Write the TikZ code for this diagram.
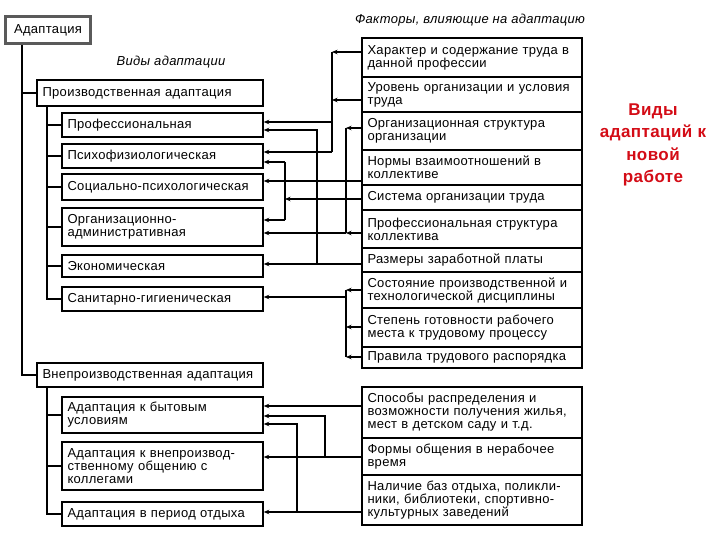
\documentclass[tikz,border=0pt]{standalone}
\usepackage{fontspec}
\setmainfont{Liberation Sans}[LetterSpace=2.5]
\usetikzlibrary{arrows.meta}
\definecolor{redtxt}{RGB}{212,12,22}
\definecolor{frame}{RGB}{90,90,90}
\tikzset{
  box/.style={draw, line width=1.5pt, align=left, inner xsep=5pt, inner ysep=0pt,
    font=\fontsize{13}{13}\selectfont, anchor=center},
  lbox/.style={box, text width=190pt, minimum width=201pt},
  pbox/.style={box, text width=215pt, minimum width=226pt},
  rbox/.style={box, inner xsep=5pt, text width=209pt, minimum width=220pt},
  con/.style={line width=1.2pt},
  arr/.style={con, -{Stealth[length=5.5pt,width=4.5pt]}},
  tree/.style={line width=1.6pt},
  head/.style={font=\fontsize{13}{13}\selectfont\itshape, inner sep=0pt}
}
\begin{document}
\begin{tikzpicture}[x=1pt,y=-1pt]
\useasboundingbox (0,0) rectangle (720,540);
\fill[white] (0,0) rectangle (720,540);

% left column
\node[draw=frame, line width=3.8pt, minimum width=85pt, minimum height=27pt, inner sep=0pt,
  font=\fontsize{13}{13}\selectfont] (top) at (48,30) {Адаптация};
\node[head] (hl) at (171,62) {Виды адаптации};
\node[head] (hr) at (470,20) {Факторы, влияющие на адаптацию};

\node[pbox, minimum height=26pt] (P0) at (150,93) {Производственная адаптация};
\node[lbox, minimum height=24pt] (p1) at (162.5,125) {Профессиональная};
\node[lbox, minimum height=24pt] (p2) at (162.5,156) {Психофизиологическая};
\node[lbox, minimum height=26pt] (p3) at (162.5,187) {Социально-психологическая};
\node[lbox, minimum height=38pt] (p4) at (162.5,227) {Организационно-\\административная};
\node[lbox, minimum height=22pt] (p5) at (162.5,266) {Экономическая};
\node[lbox, minimum height=24pt] (p6) at (162.5,299) {Санитарно-гигиеническая};

\node[pbox, minimum height=24pt] (Q0) at (150,375) {Внепроизводственная адаптация};
\node[lbox, minimum height=36pt] (q1) at (162.5,415) {Адаптация к бытовым\\условиям};
\node[lbox, minimum height=48pt] (q2) at (162.5,466) {Адаптация к внепроизвод-\\ственному общению с\\коллегами};
\node[lbox, minimum height=24pt] (q3) at (162.5,514) {Адаптация в период отдыха};

% right column
\node[rbox, minimum height=39pt] (f1) at (472,57.5) {Характер и содержание труда в\\данной профессии};
\node[rbox, minimum height=35pt] (f2) at (472,94.5) {Уровень организации и условия\\труда};
\node[rbox, minimum height=38pt] (f3) at (472,131) {Организационная структура\\организации};
\node[rbox, minimum height=35pt] (f4) at (472,167.5) {Нормы взаимоотношений в\\коллективе};
\node[rbox, minimum height=25pt] (f5) at (472,197.5) {Система организации труда};
\node[rbox, minimum height=38pt] (f6) at (472,229) {Профессиональная структура\\коллектива};
\node[rbox, minimum height=24pt] (f7) at (472,260) {Размеры заработной платы};
\node[rbox, minimum height=36pt] (f8) at (472,290) {Состояние производственной и\\технологической дисциплины};
\node[rbox, minimum height=39pt] (f9) at (472,327.5) {Степень готовности рабочего\\места к трудовому процессу};
\node[rbox, minimum height=21pt] (f10) at (472,357.5) {Правила трудового распорядка};

\node[rbox, minimum height=51pt] (g1) at (472,412.5) {Способы распределения и\\возможности получения жилья,\\мест в детском саду и т.д.};
\node[rbox, minimum height=37pt] (g2) at (472,456.5) {Формы общения в нерабочее\\время};
\node[rbox, minimum height=50pt] (g3) at (472,500) {Наличие баз отдыха, поликли-\\ники, библиотеки, спортивно-\\культурных заведений};

\node[font=\fontsize{17}{22.5}\selectfont\bfseries, text=redtxt, align=center, inner sep=0pt] (red) at (653,145) {Виды\\адаптаций к\\новой\\работе};

% tree
\coordinate (xT) at (22,0);
\coordinate (xS) at (47,0);
\draw[tree] (top.south -| xT) |- (P0.west);
\draw[tree] (top.south -| xT) |- (Q0.west);
\foreach \n in {p1,p2,p3,p4,p5,p6} \draw[tree] (P0.south -| xS) |- (\n.west);
\foreach \n in {q1,q2,q3} \draw[tree] (Q0.south -| xS) |- (\n.west);

% buses
\coordinate (xA) at (332,0);
\coordinate (xB) at (317,0);
\coordinate (xC) at (346,0);
\coordinate (xE) at (285,0);
\coordinate (xG) at (325,0);
\coordinate (xH) at (297,0);

% A
\draw[arr] (f1.west |- 0,52) -- (xA |- 0,52);
\draw[arr] (f2.west |- 0,100) -- (xA |- 0,100);
\draw[con] (xA |- 0,52) -- (xA |- 0,152);
\draw[arr] (xA |- 0,122) -- (p1.east |- 0,122);
\draw[arr] (xA |- 0,152) -- (p2.east |- 0,152);
% B
\draw[arr] (f7.west |- 0,264) -- (p5.east |- 0,264);
\draw[arr] (xB |- 0,264) -- (xB |- 0,130) -- (p1.east |- 0,130);
% C
\draw[arr] (f3.west |- 0,128) -- (xC |- 0,128);
\draw[con] (xC |- 0,128) -- (xC |- 0,233);
\draw[arr] (f6.west |- 0,233) -- (xC |- 0,233);
\draw[arr] (xC |- 0,233) -- (p4.east |- 0,233);
% D
\draw[arr] (f4.west |- 0,181) -- (p3.east |- 0,181);
% E
\draw[arr] (f5.west |- 0,199) -- (xE |- 0,199);
\draw[con] (xE |- 0,162) -- (xE |- 0,220);
\draw[arr] (xE |- 0,162) -- (p2.east |- 0,162);
\draw[arr] (xE |- 0,220) -- (p4.east |- 0,220);
% F
\draw[arr] (f8.west |- 0,290) -- (xC |- 0,290);
\draw[arr] (f9.west |- 0,327) -- (xC |- 0,327);
\draw[arr] (f10.west |- 0,357) -- (xC |- 0,357);
\draw[con] (xC |- 0,290) -- (xC |- 0,357);
\draw[arr] (xC |- 0,297) -- (p6.east |- 0,297);
% G
\draw[arr] (g1.west |- 0,406) -- (q1.east |- 0,406);
\draw[arr] (g2.west |- 0,457) -- (q2.east |- 0,457);
\draw[arr] (xG |- 0,457) -- (xG |- 0,416) -- (q1.east |- 0,416);
\draw[arr] (g3.west |- 0,512) -- (q3.east |- 0,512);
\draw[arr] (xH |- 0,512) -- (xH |- 0,424) -- (q1.east |- 0,424);
\end{tikzpicture}
\end{document}
